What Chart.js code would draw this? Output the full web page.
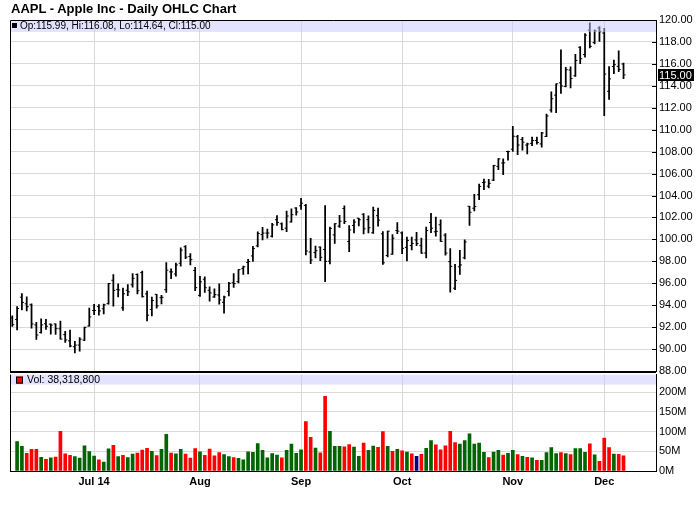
<!DOCTYPE html>
<html>
<head>
<meta charset="utf-8">
<script src="https://cdn.jsdelivr.net/npm/chart.js@4.4.1/dist/chart.umd.min.js"></script>
<style>
  html, body { margin: 0; padding: 0; background: #fff; }
  #wrap { position: relative; width: 700px; height: 512px; overflow: hidden; background: #fff; }
  #title { position: absolute; left: 11px; top: 1px; z-index: 3; font: bold 13px "Liberation Sans", Arial, sans-serif; line-height: 16px; color: #000; }
  #priceCanvas { position: absolute; left: 0; top: 0; z-index: 2; }
  #volCanvas { position: absolute; left: 0; top: 365px; z-index: 1; }
</style>
</head>
<body>
<div id="wrap">
  <div id="title">AAPL - Apple Inc - Daily OHLC Chart</div>
  <canvas id="priceCanvas" width="700" height="385"></canvas>
  <canvas id="volCanvas" width="700" height="147"></canvas>
</div>
<script>
// trading days, 2014
const dates = [
  "06-06","06-09","06-10","06-11","06-12","06-13","06-16","06-17","06-18","06-19","06-20","06-23","06-24","06-25","06-26","06-27","06-30",
  "07-01","07-02","07-03","07-07","07-08","07-09","07-10","07-11","07-14","07-15","07-16","07-17","07-18","07-21","07-22","07-23","07-24","07-25","07-28","07-29","07-30","07-31",
  "08-01","08-04","08-05","08-06","08-07","08-08","08-11","08-12","08-13","08-14","08-15","08-18","08-19","08-20","08-21","08-22","08-25","08-26","08-27","08-28","08-29",
  "09-02","09-03","09-04","09-05","09-08","09-09","09-10","09-11","09-12","09-15","09-16","09-17","09-18","09-19","09-22","09-23","09-24","09-25","09-26","09-29","09-30",
  "10-01","10-02","10-03","10-06","10-07","10-08","10-09","10-10","10-13","10-14","10-15","10-16","10-17","10-20","10-21","10-22","10-23","10-24","10-27","10-28","10-29","10-30","10-31",
  "11-03","11-04","11-05","11-06","11-07","11-10","11-11","11-12","11-13","11-14","11-17","11-18","11-19","11-20","11-21","11-24","11-25","11-26","11-28",
  "12-01","12-02","12-03","12-04","12-05"
];

const opens = [
  92.84,92.70,94.73,94.13,94.04,92.20,91.51,92.31,92.27,92.29,91.85,91.32,90.75,90.21,90.37,90.82,92.10,
  93.52,93.87,93.67,94.14,96.27,95.44,93.76,95.36,95.86,96.80,96.97,95.03,93.62,94.99,94.68,95.42,97.04,96.85,97.82,99.33,98.44,97.16,
  94.90,96.37,95.36,94.75,94.93,94.26,95.27,96.04,96.15,97.33,97.90,98.49,99.41,100.44,100.57,100.29,101.79,101.42,101.02,101.59,102.86,
  103.06,103.10,98.85,98.80,99.30,99.08,98.01,100.41,101.21,102.81,99.80,101.27,101.93,102.29,101.80,100.60,102.16,100.51,98.53,98.65,100.81,
  100.59,99.27,99.44,99.95,99.43,98.76,101.54,100.69,101.33,100.39,97.97,95.55,97.50,98.32,103.02,102.84,104.08,105.18,104.85,105.40,106.65,106.96,108.01,
  108.22,109.36,109.10,108.60,108.75,109.02,108.70,109.38,111.80,113.15,114.27,113.94,115.44,114.91,117.51,116.85,119.07,117.94,119.27,
  118.81,113.50,115.75,115.77,115.99
];
const highs = [
  93.04,93.88,95.05,94.76,94.12,92.44,92.75,92.70,92.29,92.30,92.55,91.62,91.74,90.70,91.05,92.00,93.73,
  94.07,94.06,94.10,95.99,96.80,95.95,95.55,95.89,96.89,96.85,97.10,95.28,94.74,95.00,94.89,97.88,97.32,97.84,99.24,99.44,98.70,97.45,
  96.62,96.58,95.68,95.48,95.95,94.82,96.08,96.88,97.24,97.57,98.19,99.37,100.68,101.09,100.94,101.47,102.17,101.50,102.57,102.78,102.90,
  103.74,103.20,100.09,99.39,99.31,103.08,101.11,101.44,102.19,103.05,101.26,101.80,101.93,102.35,102.14,102.94,102.85,100.71,100.75,100.44,101.54,
  100.69,100.22,100.21,100.65,100.12,101.11,102.38,102.03,101.78,100.52,99.15,97.72,99.00,99.96,103.02,104.11,105.05,105.49,105.48,106.74,107.37,107.35,108.04,
  110.30,109.49,109.30,108.79,109.32,109.33,109.75,111.43,113.45,114.19,117.28,115.69,115.74,116.86,117.57,118.77,119.75,119.10,119.40,
  119.25,115.75,116.35,117.20,116.08
];
const lows = [
  92.07,91.75,93.57,93.47,91.90,90.88,91.45,91.80,91.35,91.34,90.90,90.60,90.19,89.65,89.80,90.77,92.09,
  93.13,93.09,93.20,94.10,93.92,94.76,93.52,94.86,95.65,95.03,94.74,92.57,93.02,93.72,94.12,95.17,96.42,96.64,97.55,98.25,97.67,95.33,
  94.81,95.17,94.36,94.71,94.10,93.28,94.84,95.61,96.04,96.80,96.86,97.98,99.32,99.95,100.11,100.19,101.28,100.86,100.70,101.56,102.20,
  102.72,98.58,97.79,98.31,98.05,96.14,97.76,99.62,101.08,101.44,98.89,100.59,101.23,100.50,100.58,100.54,101.20,97.72,98.40,98.63,100.53,
  98.70,98.04,99.04,99.42,98.73,98.31,100.61,100.30,99.81,98.57,95.18,95.41,96.81,98.22,101.27,102.60,103.63,104.53,104.70,105.35,106.36,105.90,107.21,
  108.01,107.72,108.13,107.80,108.55,108.67,108.40,109.37,111.60,111.56,113.30,113.89,113.80,114.85,116.03,116.62,117.45,117.83,118.05,
  111.27,112.75,115.11,115.29,114.64
];
const closes = [
  92.22,93.70,94.25,93.86,92.29,91.28,92.20,92.08,92.18,91.86,90.91,90.83,90.28,90.36,90.90,91.98,92.93,
  93.52,93.48,94.03,95.97,95.35,95.39,95.04,95.22,96.45,95.32,94.78,93.09,94.43,93.94,94.72,97.19,97.03,97.67,99.02,98.38,98.15,95.60,
  96.13,95.59,95.12,94.96,94.48,94.74,95.99,95.97,97.24,97.50,97.98,99.16,100.53,100.57,100.58,101.32,101.54,100.89,102.13,102.25,102.50,
  103.30,98.94,98.12,98.97,98.36,97.99,101.00,101.43,101.66,101.63,100.86,101.58,101.79,100.96,101.06,102.64,101.75,97.87,100.75,100.11,100.75,
  99.18,99.90,99.62,99.62,98.75,100.80,101.02,100.73,99.81,98.75,97.54,96.26,97.67,99.76,102.47,102.99,104.83,105.22,105.11,106.74,107.34,106.98,108.00,
  109.40,108.60,108.86,108.70,109.01,108.83,109.70,111.25,112.82,114.18,113.99,115.47,114.67,116.31,116.47,118.62,117.60,119.00,118.93,
  115.07,114.63,115.93,115.49,115.00
];
// volume in millions of shares (first day has no bar)
const volumes = [
  null,75.0,62.5,45.0,55.0,55.0,35.0,29.5,33.5,35.5,100.9,43.7,39.9,36.9,32.6,64.0,49.6,
  38.2,28.5,22.9,56.5,65.1,36.4,39.7,34.0,42.8,45.5,53.4,57.3,49.9,39.1,55.2,92.9,45.7,43.5,55.3,43.1,33.0,56.8,
  48.5,40.0,55.9,38.6,46.7,41.9,36.6,33.8,31.9,28.1,48.9,47.6,69.6,52.7,33.5,44.2,40.3,33.2,52.4,68.5,44.6,
  53.6,125.4,85.7,58.5,46.3,189.8,100.9,62.4,62.9,61.3,66.9,60.9,37.3,70.9,52.8,63.4,60.2,100.1,62.4,49.8,55.3,
  51.5,47.8,43.5,37.1,42.1,57.4,77.4,66.3,53.6,63.7,100.9,72.2,68.2,77.5,94.6,68.3,71.1,47.5,34.2,48.1,52.7,40.7,44.6,
  52.3,41.6,37.4,34.9,33.7,27.2,27.4,46.9,59.5,44.1,46.7,44.2,41.9,56.9,57.2,47.5,68.8,40.8,24.8,
  83.8,59.3,43.1,42.2,38.3188
];

const monthStarts = ["07-01", "08-01", "09-02", "10-01", "11-03", "12-01"];
const monthLabels = ["Jul 14", "Aug", "Sep", "Oct", "Nov", "Dec"];
const volumeTicks = [0, 50, 100, 150, 200];

const FONT = '"Liberation Sans", Arial, Helvetica, sans-serif';
const GRID = "#d9d9d9";
const BAND = "rgba(200, 200, 255, 0.5)";
const UP = "#006400", DOWN = "#ff0000", FLAT = "#000080";

Chart.defaults.font.family = FONT;
Chart.defaults.color = "#000";
Chart.defaults.animation = false;

const monthIdx = monthStarts.map(d => dates.indexOf(d));
const last = dates.length - 1;

const xAxis = (showLabels) => ({
  type: "linear",
  min: -0.37,
  max: 133.75,
  offset: false,
  grid: { color: GRID, drawTicks: false, offset: false },
  border: { display: showLabels, color: "#000" },
  afterBuildTicks: s => { s.ticks = monthIdx.map(v => ({ value: v })); },
  afterFit: s => { s.height = showLabels ? 41 : 0; },
  ticks: {
    display: showLabels, autoSkip: false, maxRotation: 0, padding: 4,
    font: { size: 11, weight: "bold" },
    callback: v => monthLabels[monthIdx.indexOf(v)]
  }
});

const pricePanel = {
  id: "pricePanel",
  afterDatasetsDraw(chart) {
    const { ctx, chartArea: a } = chart;
    const top = Math.floor(a.top);
    ctx.save();
    ctx.fillStyle = BAND;
    ctx.fillRect(a.left, top, a.right - a.left, 12);
    ctx.fillStyle = "#000";
    ctx.fillRect(Math.floor(a.left) + 2, top + 3, 5, 5);
    ctx.font = "10px " + FONT;
    ctx.textBaseline = "middle";
    const legend = "Op:" + opens[last].toFixed(2) + ", Hi:" + highs[last].toFixed(2) +
      ", Lo:" + lows[last].toFixed(2) + ", Cl:" + closes[last].toFixed(2);
    ctx.fillText(legend, Math.floor(a.left) + 10, top + 6.5);
    ctx.restore();
  },
  afterDraw(chart) {
    const { ctx, chartArea: a, scales: { y } } = chart;
    ctx.save();
    ctx.strokeStyle = "#000";
    ctx.lineWidth = 1;
    ctx.beginPath();
    ctx.moveTo(a.left, a.bottom);
    ctx.lineTo(a.left, Math.floor(a.top) + 0.5);
    ctx.lineTo(a.right, Math.floor(a.top) + 0.5);
    ctx.stroke();
    // panel separator
    ctx.lineWidth = 2;
    ctx.beginPath();
    ctx.moveTo(a.left - 0.5, a.bottom + 1);
    ctx.lineTo(a.right, a.bottom + 1);
    ctx.stroke();
    // short ticks inside the price axis
    ctx.lineWidth = 1;
    y.ticks.forEach(t => {
      const py = Math.round(y.getPixelForValue(t.value)) + 0.5;
      ctx.beginPath();
      ctx.moveTo(a.right - 4, py);
      ctx.lineTo(a.right, py);
      ctx.stroke();
    });
    // last close marker
    const py = y.getPixelForValue(closes[last]);
    ctx.fillStyle = "#000";
    ctx.fillRect(a.right + 2, Math.round(py) - 6, 36, 12);
    ctx.fillStyle = "#fff";
    ctx.font = "11px " + FONT;
    ctx.textBaseline = "middle";
    ctx.fillText(closes[last].toFixed(2), a.right + 3, Math.round(py) + 0.5);
    ctx.restore();
  }
};

const volumePanel = {
  id: "volumePanel",
  afterDatasetsDraw(chart) {
    const { ctx, chartArea: a } = chart;
    const left = Math.floor(a.left);
    ctx.save();
    ctx.fillStyle = BAND;
    ctx.fillRect(a.left, a.top, a.right - a.left, 10);
    ctx.fillStyle = DOWN;
    ctx.fillRect(left + 6, a.top + 2, 7, 7);
    ctx.strokeStyle = "#000";
    ctx.lineWidth = 1;
    ctx.strokeRect(left + 6.5, a.top + 2.5, 6, 6);
    ctx.fillStyle = "#000";
    ctx.font = "10.5px " + FONT;
    ctx.textBaseline = "middle";
    ctx.fillText("Vol: " + Math.round(volumes[last] * 1e6).toLocaleString("en-US"), left + 17, a.top + 6);
    ctx.beginPath();
    ctx.moveTo(a.left, a.top);
    ctx.lineTo(a.left, a.bottom);
    ctx.stroke();
    ctx.restore();
  }
};

new Chart(document.getElementById("priceCanvas"), {
  type: "bar",
  data: {
    datasets: [
      {
        type: "bar",
        data: dates.map((d, i) => ({ x: i, y: [lows[i], highs[i]] })),
        backgroundColor: "#000",
        borderWidth: 0,
        barThickness: 1.1,
        grouped: false
      },
      {
        type: "line",
        data: dates.map((d, i) => ({ x: i, y: opens[i] })),
        showLine: false,
        pointStyle: "dash",
        pointRotation: 180,
        pointRadius: 2,
        pointBorderWidth: 1,
        pointBorderColor: "#000",
        pointBackgroundColor: "#000"
      },
      {
        type: "line",
        data: dates.map((d, i) => ({ x: i, y: closes[i] })),
        showLine: false,
        pointStyle: "dash",
        pointRadius: 2,
        pointBorderWidth: 1,
        pointBorderColor: "#000",
        pointBackgroundColor: "#000"
      }
    ]
  },
  options: {
    responsive: false,
    events: [],
    layout: { padding: { left: 10.5, right: 0, top: 20, bottom: 14 } },
    plugins: { legend: { display: false }, tooltip: { enabled: false } },
    scales: {
      x: xAxis(false),
      y: {
        position: "right",
        min: 88,
        max: 120,
        grid: { color: GRID, drawTicks: false },
        border: { color: "#000" },
        afterFit: s => { s.width = 44; },
        ticks: { stepSize: 2, padding: 3, font: { size: 11 }, callback: v => v.toFixed(2) }
      }
    }
  },
  plugins: [pricePanel]
});

const volColors = volumes.map((v, i) => {
  if (i === 0) return FLAT;
  if (closes[i] > closes[i - 1]) return UP;
  if (closes[i] < closes[i - 1]) return DOWN;
  return FLAT;
});

new Chart(document.getElementById("volCanvas"), {
  type: "bar",
  data: {
    datasets: [{
      data: dates.map((d, i) => ({ x: i, y: volumes[i] })),
      backgroundColor: volColors,
      borderWidth: 0,
      barThickness: 3
    }]
  },
  options: {
    responsive: false,
    events: [],
    layout: { padding: { left: 10.5, right: 0, top: 8, bottom: 0 } },
    plugins: { legend: { display: false }, tooltip: { enabled: false } },
    scales: {
      x: xAxis(true),
      y: {
        position: "right",
        min: 0,
        max: 245,
        grid: { color: GRID, drawTicks: false },
        border: { color: "#000" },
        afterBuildTicks: s => { s.ticks = volumeTicks.map(v => ({ value: v })); },
        afterFit: s => { s.width = 44; },
        ticks: { padding: 3, font: { size: 11 }, callback: v => v + "M" }
      }
    }
  },
  plugins: [volumePanel]
});
</script>
</body>
</html>
